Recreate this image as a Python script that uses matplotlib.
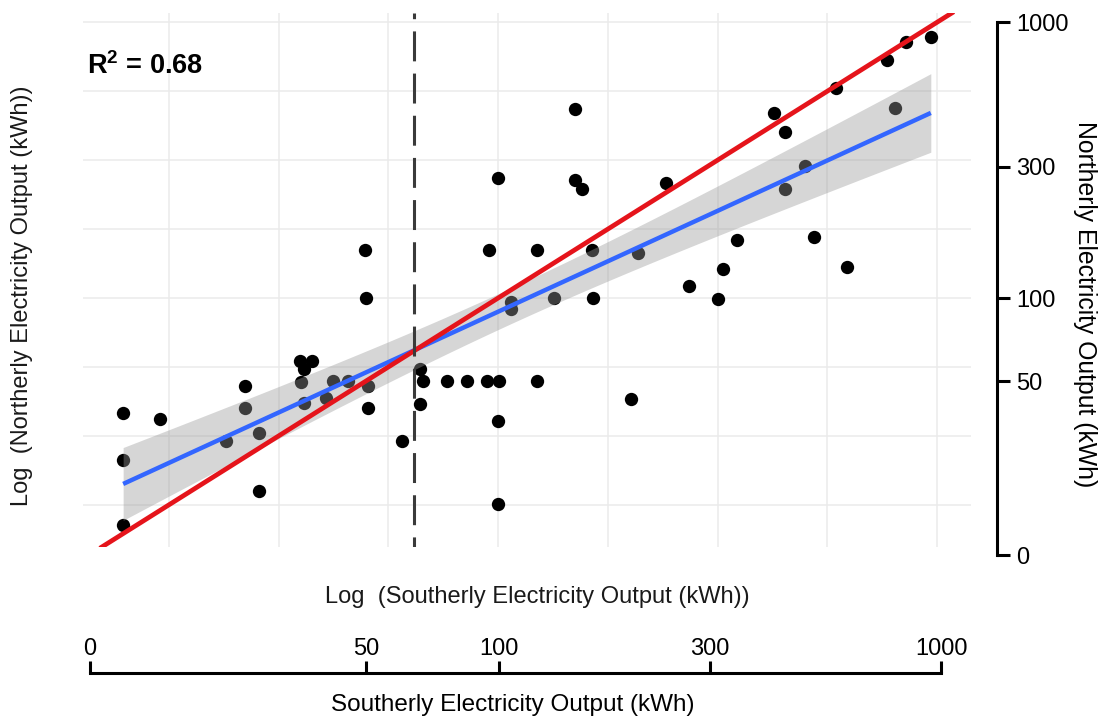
import numpy as np
import matplotlib
matplotlib.use("Agg")
import matplotlib.pyplot as plt

plt.rcParams['font.family'] = ['Liberation Sans', 'DejaVu Sans']
plt.rcParams['mathtext.fontset'] = 'custom'
plt.rcParams['mathtext.rm'] = 'Liberation Sans'
plt.rcParams['mathtext.bf'] = 'Liberation Sans:bold'

# ---------------- data (kWh) ----------------
southerly_kwh = [14.0, 17.0, 14.0, 14.0, 24.0, 26.5, 26.5, 28.5, 28.5, 35.4,
                 37.6, 36.1, 35.5, 36.1, 40.6, 42.0, 45.5, 50.1, 49.8, 50.6,
                 50.6, 60.4, 66.4, 67.5, 66.4, 76.5, 85.0, 94.5, 100.5, 100.0,
                 100.0, 106.9, 107.2, 122.9, 133.9, 164.4, 200.5, 272.0, 317.0, 325.5,
                 350.0, 525.0, 625.0, 426.0, 451.0, 500.0, 451.0, 590.0, 768.0, 851.0,
                 968.0, 802.0, 150.0, 100.0, 150.0, 155.0, 242.0, 95.3, 122.7, 164.0,
                 208.0]
northerly_kwh = [38.2, 36.5, 25.9, 15.0, 30.3, 48.0, 40.1, 32.3, 20.0, 59.3,
                 59.3, 55.2, 49.8, 41.5, 43.3, 50.0, 50.0, 100.0, 150.0, 48.0,
                 40.1, 30.4, 55.2, 50.0, 41.3, 50.0, 50.0, 50.0, 50.0, 35.9,
                 17.9, 97.0, 91.0, 50.0, 100.0, 100.0, 43.0, 111.0, 99.0, 127.0,
                 163.0, 166.0, 130.0, 468.0, 399.0, 302.0, 249.0, 577.0, 730.0, 851.0,
                 887.0, 490.0, 485.0, 272.0, 268.0, 249.0, 261.0, 150.0, 150.0, 150.0,
                 146.0]
threshold_kwh = 64.3
r2_label = "0.68"
axis_tick_values = [0, 50, 100, 300, 1000]
axis_tick_labels = ["0", "50", "100", "300", "1000"]

lx = np.log10(np.array(southerly_kwh))
ly = np.log10(np.array(northerly_kwh))

# ---------------- figure ----------------
W, H = 1104, 720
fig = plt.figure(figsize=(W / 100, H / 100), dpi=100)


def fx(px):
    return px / W


def fy(py):
    return 1 - py / H


# main panel (pixel box)
pl, pr, pt, pb = 83, 971, 13, 547
ax = fig.add_axes([fx(pl), fy(pb), fx(pr - pl), (pb - pt) / H])
xl = (2 + (pl - 498) / 439, 2 + (pr - 498) / 439)
yl = (3 - (pb - 22.3) / 275.8, 3 - (pt - 22.3) / 275.8)
for s in ax.spines.values():
    s.set_visible(False)
grid_vals = np.arange(1.25, 3.01, 0.25)
ax.set_xticks(grid_vals)
ax.set_yticks(grid_vals)
ax.set_xlim(*xl)
ax.set_ylim(*yl)
ax.tick_params(length=0, labelbottom=False, labelleft=False)
ax.grid(True, color='#ebebeb', linewidth=1.1)
ax.set_axisbelow(True)

# points
ax.scatter(lx, ly, s=92, color='black', zorder=3, linewidths=0)

# regression with confidence band
n = len(lx)
slope, intercept = np.polyfit(lx, ly, 1)
xs = np.linspace(lx.min(), lx.max(), 100)
fit = intercept + slope * xs
resid = ly - (intercept + slope * lx)
s_err = np.sqrt(np.sum(resid ** 2) / (n - 2))
sxx = np.sum((lx - lx.mean()) ** 2)
t_crit = 2.001
half = t_crit * s_err * np.sqrt(1 / n + (xs - lx.mean()) ** 2 / sxx)
ax.fill_between(xs, fit - half, fit + half, color='#999999', alpha=0.4,
                linewidth=0, zorder=4)
ax.plot(xs, fit, color='#3366FF', linewidth=3.2, zorder=5, solid_capstyle='butt')

# identity line
ax.axline((1, 1), slope=1, color='#E5141B', linewidth=3.4, zorder=6)

# threshold line
lw_d = 2.2
ax.axvline(np.log10(threshold_kwh), color='#3a3a3a', linewidth=lw_d,
           linestyle=(6.5, (9.8, 4.0)), zorder=7)

# R2 text
fig.text(fx(87), fy(66), r'$\mathbf{R^2}$ = ' + r2_label,
         fontsize=19.5, fontweight='bold', ha='left', va='center')

# main axis titles
fig.text(fx(537), fy(597), "Log  (Southerly Electricity Output (kWh))",
         fontsize=17, ha='center', va='center', color='#1a1a1a')
fig.text(fx(22), fy(296), "Log  (Northerly Electricity Output (kWh))",
         fontsize=17, ha='center', va='center', rotation=90, color='#1a1a1a')

# -------- right-hand axis --------
r_top, r_bot, r_x = 22.3, 555, 997
axr = fig.add_axes([fx(r_x) - 0.01, fy(r_bot), 0.01, (r_bot - r_top) / H])
axr.patch.set_alpha(0)
y_bottom = 3 - (r_bot - r_top) / 275.8
axr.set_xticks([])
for k in ['left', 'top', 'bottom']:
    axr.spines[k].set_visible(False)
axr.spines['right'].set_linewidth(2.2)
rt = [y_bottom] + [np.log10(v) for v in axis_tick_values[1:]]
axr.yaxis.tick_right()
axr.set_yticks(rt)
axr.set_yticklabels(axis_tick_labels)
axr.set_ylim(y_bottom, 3.0)
axr.tick_params(axis='y', direction='out', length=9.5, width=2.2, labelsize=17, pad=4)
fig.text(fx(1085), fy(304), "Northerly Electricity Output (kWh)", fontsize=17.8,
         rotation=270, ha='center', va='center')

# -------- bottom axis --------
b_l, b_r, b_y = 90, 941, 673
axb = fig.add_axes([fx(b_l), fy(b_y), fx(b_r - b_l), 0.01])
axb.patch.set_alpha(0)
x_left = 3 - (b_r - b_l) / 442
axb.set_yticks([])
for k in ['left', 'right', 'top']:
    axb.spines[k].set_visible(False)
axb.spines['bottom'].set_linewidth(2.2)
bt = [x_left] + [np.log10(v) for v in axis_tick_values[1:]]
axb.xaxis.tick_top()
axb.set_xticks(bt)
axb.set_xticklabels(axis_tick_labels)
axb.set_xlim(x_left, 3.0)
axb.tick_params(axis='x', direction='in', length=0, labelsize=17, pad=4, top=False,
                labeltop=True)
axb2 = axb.secondary_xaxis('bottom')
axb2.set_xticks(bt)
axb2.set_xticklabels([])
axb2.tick_params(axis='x', direction='in', length=9, width=2.2)
axb2.spines['bottom'].set_visible(False)
fig.text(fx(513), fy(705), "Southerly Electricity Output (kWh)", fontsize=17.5,
         ha='center', va='center')

fig.savefig("out.png", dpi=100)
